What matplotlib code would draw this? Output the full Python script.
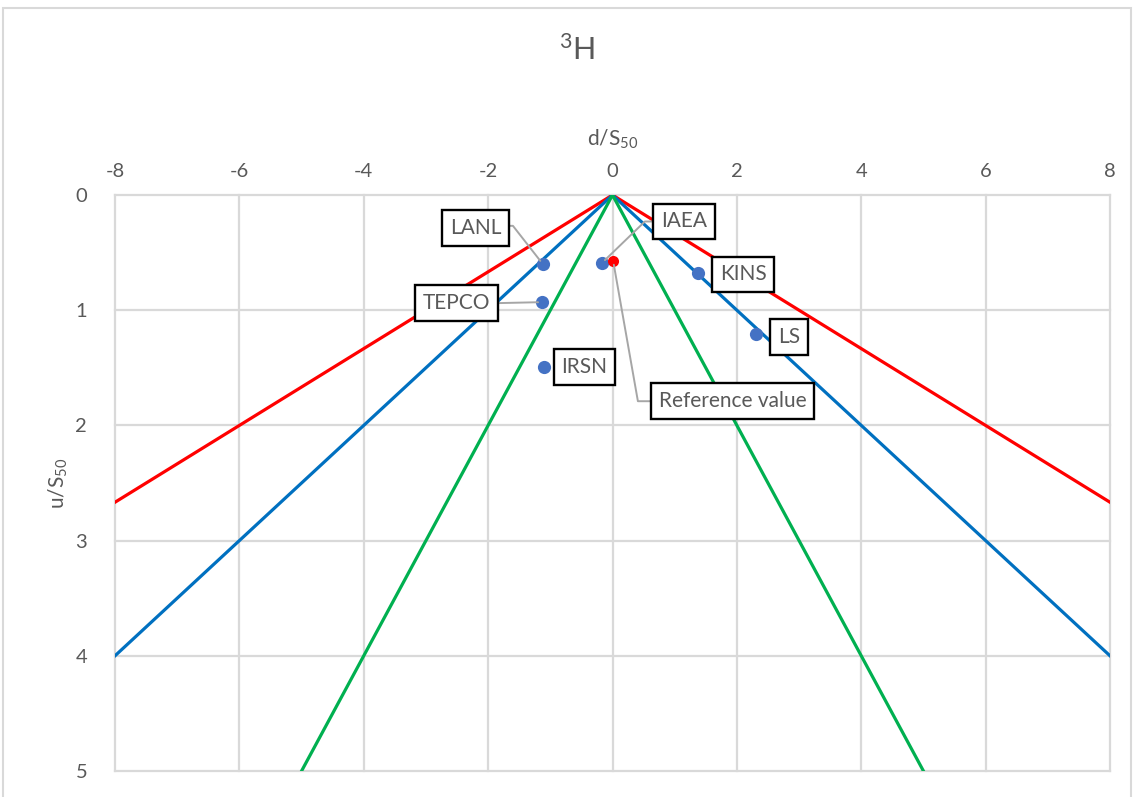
import matplotlib.pyplot as plt
from matplotlib.patches import Rectangle

plt.rcParams['font.family'] = ['Lato', 'DejaVu Sans']
plt.rcParams['mathtext.default'] = 'regular'
plt.rcParams['axes.unicode_minus'] = False

# zeta-score style boundary lines (d/S50, u/S50)
red_d = [-8, 0, 8]
red_u = [2.667, 0, 2.667]
blue_d = [-8, 0, 8]
blue_u = [4, 0, 4]
green_d = [-5, 0, 5]
green_u = [5, 0, 5]

# laboratory results
labs = ['LANL', 'IAEA', 'KINS', 'TEPCO', 'LS', 'IRSN']
lab_d = [-1.12, -0.17, 1.38, -1.13, 2.30, -1.10]
lab_u = [0.60, 0.59, 0.68, 0.93, 1.21, 1.49]
ref_d = [0.01]
ref_u = [0.57]

# callout: centre (data coords), leader start on the box, leader bend (None = no leader)
label_pos = {
    'LANL': (-2.205, 0.285, (1, 0.6), 'angle,angleA=0,angleB=128,rad=0'),
    'IAEA': (1.15, 0.23, (0, 0.5), 'angle,angleA=180,angleB=44,rad=0'),
    'KINS': (2.1, 0.69, None, None),
    'TEPCO': (-2.51, 0.94, (1, 0.5), 'arc3'),
    'LS': (2.84, 1.23, None, None),
    'IRSN': (-0.45, 1.49, None, None),
    'Reference value': (1.93, 1.79, (0, 0.5), 'angle,angleA=180,angleB=-80,rad=0'),
}

grey = '#595959'
fig = plt.figure(figsize=(11.37, 7.97), dpi=100)
ax = fig.add_axes([115/1137, 1 - 771/797, 995/1137, 576/797])

ax.plot(red_d, red_u, color='#FF0000', lw=2.3, zorder=3)
ax.plot(blue_d, blue_u, color='#0070C0', lw=2.3, zorder=3)
ax.plot(green_d, green_u, color='#00B050', lw=2.3, zorder=3)

ax.plot(lab_d, lab_u, 'o', color='#4472C4', ms=9.5, mec='none', zorder=4)
ax.plot(ref_d, ref_u, 'o', color='#FF0000', ms=8, mec='none', zorder=5)

box = dict(boxstyle='square,pad=0.38', fc='white', ec='black', lw=1.7)
for name, d, u in zip(labs + ['Reference value'], lab_d + ref_d, lab_u + ref_u):
    tx, ty, rel, conn = label_pos[name]
    arrow = None
    if conn:
        arrow = dict(arrowstyle='-', color='#A6A6A6', lw=1.4, relpos=rel,
                     connectionstyle=conn, shrinkA=0, shrinkB=3)
    ax.annotate(name, xy=(d, u), xytext=(tx, ty), ha='center', va='center',
                fontsize=15, color=grey, bbox=box, zorder=6, arrowprops=arrow)

ax.set_xlim(-8, 8)
ax.set_ylim(5, 0)
ax.set_xticks(range(-8, 9, 2))
ax.set_yticks(range(0, 6))
ax.xaxis.tick_top()
ax.xaxis.set_label_position('top')
ax.tick_params(length=0, labelsize=14.5, labelcolor=grey, pad=11)
ax.tick_params(axis='y', pad=20)
for s in ax.spines.values():
    s.set_visible(False)
ax.grid(True, color='#D9D9D9', lw=1.6, clip_on=False)
ax.set_axisbelow(True)

ax.set_xlabel('d/S$_{50}$', fontsize=15, color=grey, labelpad=12)
ax.set_ylabel('u/S$_{50}$', fontsize=15, color=grey, labelpad=4)
fig.text(577/1137, 1 - 50/797, '$^{3}$H', fontsize=22, color=grey,
         ha='center', va='center')

fig.patches.append(Rectangle((3/1137, -0.05), 1128/1137, 1 - 8/797 + 0.05,
                             transform=fig.transFigure, fill=False,
                             ec='#D9D9D9', lw=1.5))

fig.savefig('out.png', dpi=100)
